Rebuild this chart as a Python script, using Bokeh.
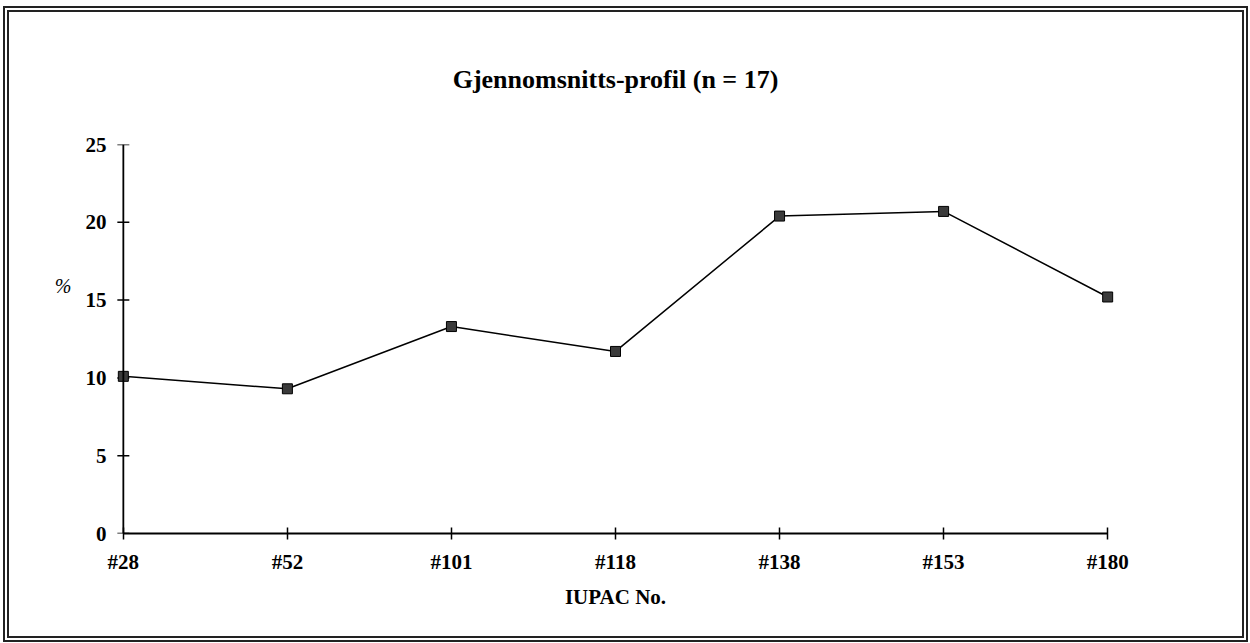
from bokeh.plotting import figure
from bokeh.models import (Range1d, FixedTicker, ColumnDataSource, Span,
                          LinearAxis, Title)
from bokeh.embed import file_html
from bokeh.resources import INLINE

categories = ["#28", "#52", "#101", "#118", "#138", "#153", "#180"]
percent = [10.1, 9.3, 13.3, 11.7, 20.4, 20.7, 15.2]
y_ticks = [0, 5, 10, 15, 20, 25]
title_text = "Gjennomsnitts-profil (n = 17)"
x_label = "IUPAC No."
y_label = "%"

FONT = "Liberation Serif"
xs = list(range(len(categories)))
src = ColumnDataSource(dict(x=xs, y=percent, cat=categories))
tick_src = ColumnDataSource(dict(x=[0] * len(y_ticks), y=y_ticks))

p = figure(width=1245, height=636, output_backend="svg", toolbar_location=None,
           x_range=Range1d(-0.06, len(categories) - 1 + 0.06),
           y_range=Range1d(0, 25),
           min_border_left=104, min_border_right=137,
           min_border_top=132, min_border_bottom=115)
p.margin = (6, 0, 0, 3)
p.styles = {"border": "6px double #222"}
p.outline_line_color = None
p.grid.visible = False
p.background_fill_color = "white"
p.border_fill_color = "white"

# title
p.title = Title(text=title_text, align="center", text_font=FONT,
                text_font_style="bold", text_font_size="26px",
                text_color="black", standoff=101)

# y axis line and ticks drawn at x = first category
p.add_layout(Span(location=0, dimension="height", line_color="black",
                  line_width=1.8))
p.scatter("x", "y", source=tick_src, marker="dash", size=12,
          line_color="black", line_width=1.5)

p.line("x", "y", source=src, line_color="black", line_width=1.5)
p.scatter("x", "y", source=src, marker="square", size=10,
          fill_color="#3a3a3a", line_color="black", line_width=1)

xa = p.xaxis[0]
xa.ticker = FixedTicker(ticks=xs)
xa.major_label_overrides = {i: c for i, c in enumerate(categories)}
xa.bounds = (0, len(categories) - 1)
xa.axis_line_width = 1.8
xa.axis_line_color = "black"
xa.major_tick_line_color = "black"
xa.major_tick_line_width = 1.5
xa.minor_tick_line_color = None
xa.major_tick_in = 6
xa.major_tick_out = 6
xa.major_label_standoff = 10
xa.major_label_text_font = FONT
xa.major_label_text_font_style = "bold"
xa.major_label_text_font_size = "21px"
xa.major_label_text_color = "black"
xa.axis_label = x_label
xa.axis_label_text_font = FONT
xa.axis_label_text_font_style = "bold"
xa.axis_label_text_font_size = "21px"
xa.axis_label_text_color = "black"
xa.axis_label_standoff = 8

ya = p.yaxis[0]
ya.ticker = FixedTicker(ticks=y_ticks)
ya.axis_line_color = None
ya.major_tick_line_color = None
ya.minor_tick_line_color = None
ya.major_tick_in = 0
ya.major_tick_out = 0
ya.major_label_standoff = 7
ya.major_label_text_font = FONT
ya.major_label_text_font_style = "bold"
ya.major_label_text_font_size = "21px"
ya.major_label_text_color = "black"

# "%" label placed beside the axis as a horizontal label
pct_axis = LinearAxis(ticker=FixedTicker(ticks=[15.93]),
                      major_label_overrides={15.93: y_label},
                      axis_line_color=None, major_tick_line_color=None,
                      minor_tick_line_color=None, major_tick_in=0,
                      major_tick_out=0, major_label_standoff=11,
                      major_label_text_font=FONT,
                      major_label_text_font_size="20px",
                      major_label_text_font_style="italic",
                      major_label_text_color="black")
p.add_layout(pct_axis, "left")

open("out.html", "w").write(file_html(p, INLINE))
